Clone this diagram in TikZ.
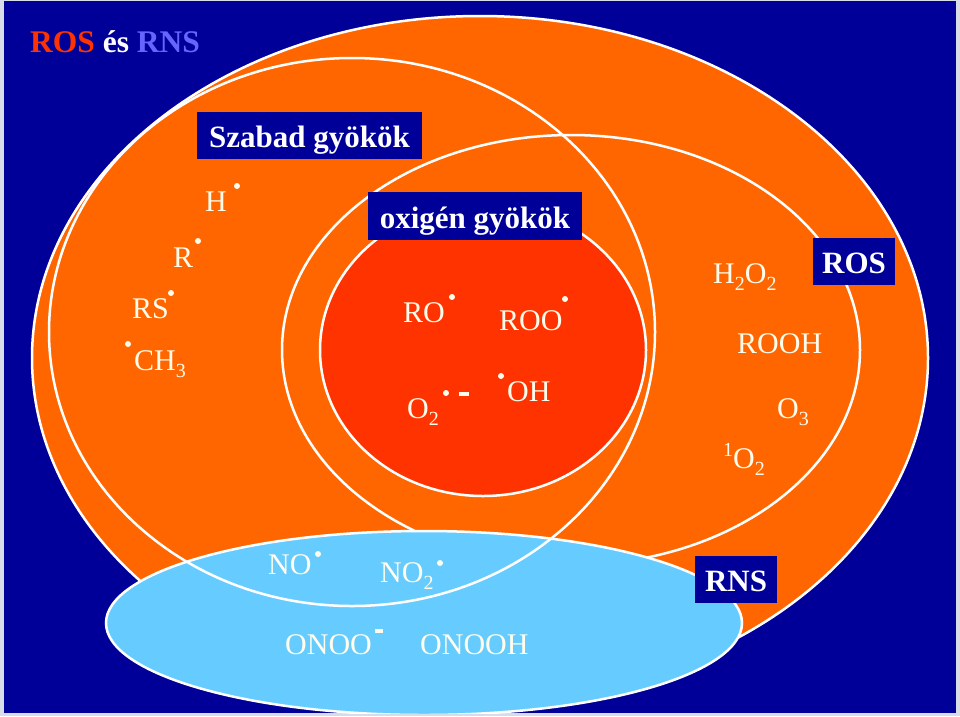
\documentclass[tikz,border=0pt]{standalone}
\usepackage{fontspec}
\setmainfont{Liberation Serif}
\definecolor{bgblue}{HTML}{000099}
\definecolor{rosorange}{HTML}{FF6600}
\definecolor{oxred}{HTML}{FF3300}
\definecolor{rnsblue}{HTML}{66CCFF}
\definecolor{txt}{HTML}{FFFCEB}
\definecolor{titlerns}{HTML}{6666FF}
\definecolor{framegray}{HTML}{D8DCE8}
\newcommand{\sbs}[1]{\raisebox{-7pt}{\fontsize{20}{20}\selectfont #1}}
\newcommand{\sps}[1]{\raisebox{12pt}{\fontsize{20}{20}\selectfont #1}}
\begin{document}
\begin{tikzpicture}[x=1pt,y=-1pt,
  ring/.style={draw=white,line width=2.5pt},
  lbl/.style={text=txt,anchor=base west,inner sep=0pt,font=\fontsize{30}{36}\selectfont},
  tagbox/.style={fill=bgblue,text=white,inner sep=0pt,text height=24pt,text depth=0pt,
    font=\bfseries\fontsize{31}{36}\selectfont},
  raddot/.style={fill=txt},
  minusbar/.style={fill=txt}]
\useasboundingbox (0,0) rectangle (960,716);
\fill[framegray] (0,0) rectangle (960,716);
\fill[bgblue] (4,1) rectangle (956,713);
\begin{scope}
  \clip (4,1) rectangle (956,713);
  \path[ring,fill=rosorange] (480,358) ellipse [x radius=448,y radius=342];
  \path[ring] (571,350) ellipse [x radius=289,y radius=215];
  \path[ring,fill=oxred] (483,350) ellipse [x radius=163,y radius=146];
  \path[ring,fill=rnsblue] (424,623) ellipse [x radius=318,y radius=92];
  \path[ring] (352,332) ellipse [x radius=303,y radius=274];
\end{scope}

% title
\node[anchor=base west,inner sep=0pt,font=\bfseries\fontsize{31.5}{36}\selectfont] (title) at (30,52)
  {\textcolor{oxred}{ROS} \textcolor{white}{és} \textcolor{titlerns}{RNS}};

% tag boxes
\node[tagbox,minimum width=225pt,minimum height=47pt] (szabad) at (309.5,135.5) {Szabad gyökök};
\node[tagbox,minimum width=214pt,minimum height=48pt] (oxigen) at (475,216) {oxigén gyökök};
\node[tagbox,minimum width=82pt,minimum height=47pt] (ros) at (854,261.5) {ROS};
\node[tagbox,minimum width=82pt,minimum height=47pt] (rns) at (736,579.5) {RNS};

% free radicals
\node[lbl] (lH) at (205,211) {H};
\node[lbl] (lR) at (173,267) {R};
\node[lbl] (lRS) at (132,318) {RS};
\node[lbl] (lCH) at (134,370) {CH\sbs{3}};
\fill[raddot] (237,186) circle (3);
\fill[raddot] (198,241) circle (3);
\fill[raddot] (171,293) circle (3);
\fill[raddot] (128,344) circle (3);

% oxygen radicals
\node[lbl] (lRO) at (403,322) {RO};
\node[lbl] (lROO) at (499,330) {ROO};
\node[lbl] (lO2) at (407,418) {O\sbs{2}};
\node[lbl] (lOH) at (507,401) {OH};
\fill[raddot] (452,297) circle (3);
\fill[raddot] (565,299) circle (3);
\fill[raddot] (446,393) circle (3);
\fill[minusbar] (459,392) rectangle (469,396);
\fill[raddot] (501,376) circle (3);

% non-radical ROS
\node[lbl] (lH2O2) at (713,283) {H\sbs{2}O\sbs{2}};
\node[lbl] (lROOH) at (737,353) {ROOH};
\node[lbl] (lO3) at (777,418) {O\sbs{3}};
\node[lbl] (l1O2) at (723,468) {\sps{1}O\sbs{2}};

% RNS
\node[lbl] (lNO) at (268,574) {NO};
\node[lbl] (lNO2) at (380,582) {NO\sbs{2}};
\fill[raddot] (318,554) circle (3);
\fill[raddot] (440,563) circle (3);
\node[lbl] (lONOO) at (285,654) {ONOO};
\fill[minusbar] (375,629) rectangle (383,633);
\node[lbl] (lONOOH) at (420,654) {ONOOH};
\end{tikzpicture}
\end{document}
